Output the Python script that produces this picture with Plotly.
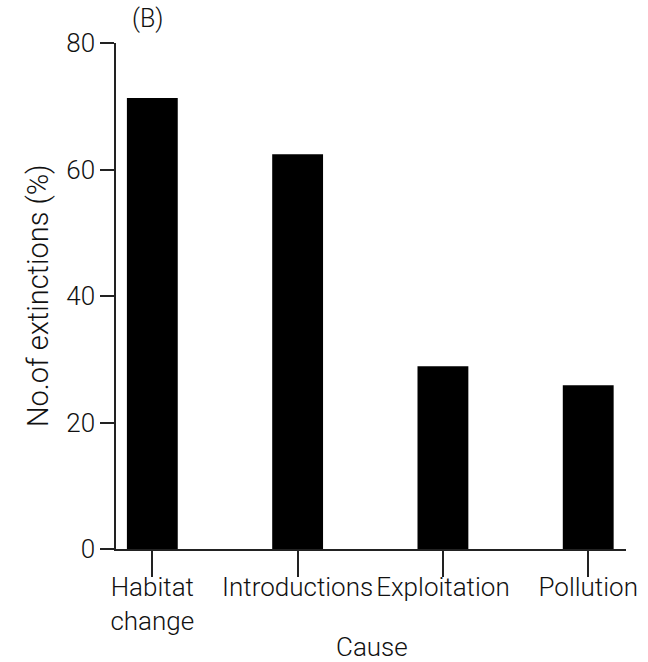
import plotly.graph_objects as go

categories = ["Habitat<br>change", "Introductions", "Exploitation", "Pollution"]
values = [71.3, 62.4, 28.9, 25.9]
y_ticks = [0, 20, 40, 60, 80]

FONT = "Roboto"
TXT = "#111111"
W = 300

fig = go.Figure()
fig.add_trace(go.Bar(
    x=list(range(len(categories))), y=values, width=0.35,
    marker=dict(color="black", line=dict(width=0)),
))

fig.update_layout(
    width=648, height=662,
    margin=dict(l=116, r=22, t=43, b=113, autoexpand=False),
    plot_bgcolor="white", paper_bgcolor="white",
    showlegend=False,
    font=dict(family=FONT, size=26, color=TXT, weight=W),
    xaxis=dict(
        range=[-0.25, 3.26], tickmode="array",
        tickvals=list(range(len(categories))), ticktext=categories,
        ticks="outside", ticklen=26, tickwidth=1.5, tickcolor="#222",
        showline=True, linecolor="#222", linewidth=1.5,
        showgrid=False, zeroline=False, ticklabelstandoff=-12,
        tickangle=0, automargin=False,
        tickfont=dict(family=FONT, size=26, color=TXT, weight=W),
    ),
    yaxis=dict(
        range=[0, 80], tickmode="array", tickvals=y_ticks,
        ticks="outside", ticklen=14, tickwidth=1.5, tickcolor="#222",
        showline=True, linecolor="#222", linewidth=1.5,
        showgrid=False, zeroline=False, automargin=False,
        tickfont=dict(family=FONT, size=26, color=TXT, weight=W),
    ),
    annotations=[
        dict(text="(B)", x=(147 - 116) / 510, y=(549 - 18) / 506, xref="paper", yref="paper",
             showarrow=False, xanchor="center", yanchor="middle", font=dict(size=25, weight=W)),
        dict(text="Cause", x=(372 - 116) / 510, y=(549 - 647) / 506, xref="paper", yref="paper",
             showarrow=False, xanchor="center", yanchor="middle", font=dict(size=26, weight=W)),
        dict(text="No.of extinctions (%)", x=(38 - 116) / 510, y=0.5, xref="paper", yref="paper",
             showarrow=False, xanchor="center", yanchor="middle", textangle=-90, font=dict(size=29, weight=W)),
    ],
)

fig.write_html("out.html")
